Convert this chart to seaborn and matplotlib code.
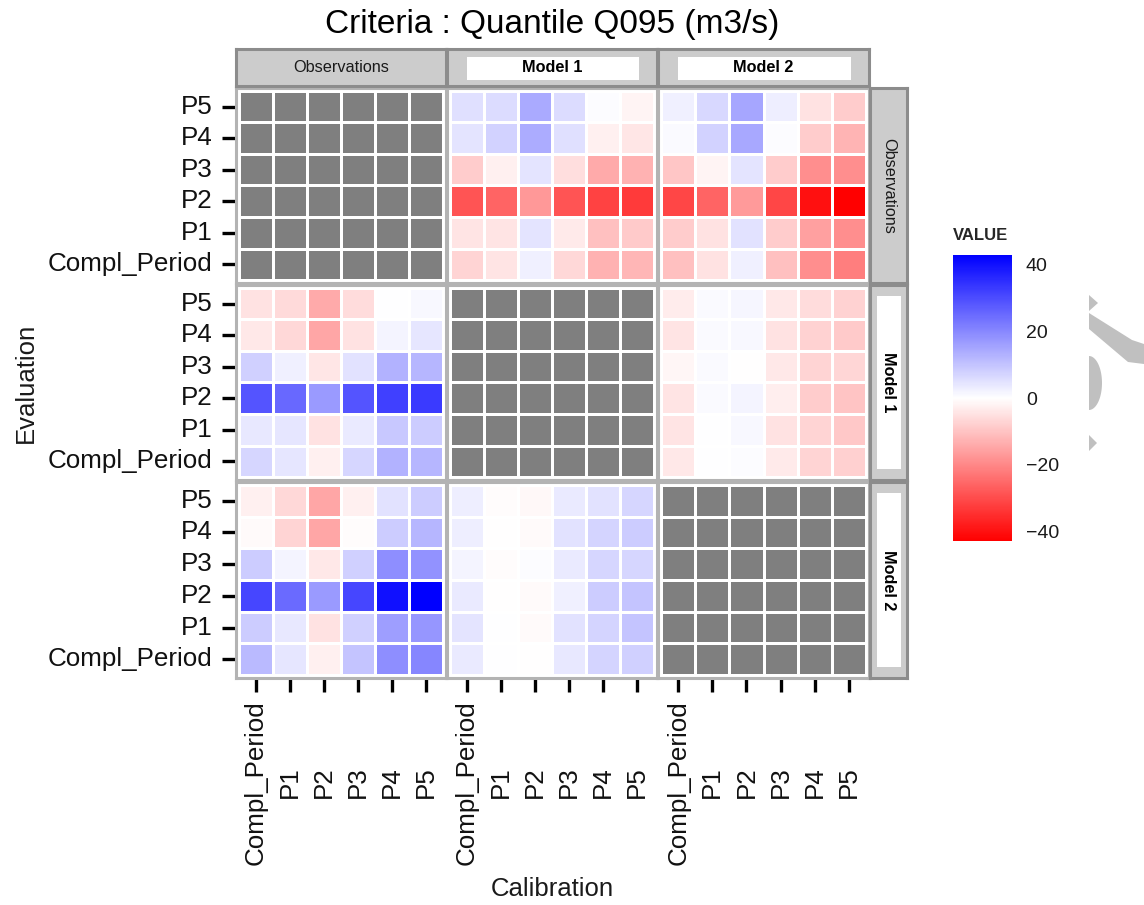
import numpy as np
import pandas as pd
import matplotlib
matplotlib.use("Agg")
import matplotlib.pyplot as plt
import matplotlib.patches as mpatches
from matplotlib.colors import LinearSegmentedColormap, ListedColormap
import seaborn as sns

# ---- data -------------------------------------------------------------
models = ["Observations", "Model 1", "Model 2"]
periods = ["Compl_Period", "P1", "P2", "P3", "P4", "P5"]   # calibration (x)
eval_rows = ["P5", "P4", "P3", "P2", "P1", "Compl_Period"]  # evaluation (y, top to bottom)

# rows follow eval_rows, columns follow periods
obs_eval_m1_calib = [
    [5.2, 6.0, 14.3, 5.7, 0.5, -2.0],
    [4.4, 7.4, 13.8, 5.2, -2.5, -4.2],
    [-8.4, -2.5, 4.6, -5.5, -14.3, -13.0],
    [-28.7, -26.0, -17.2, -28.7, -31.5, -33.0],
    [-4.4, -4.6, 4.6, -3.4, -10.5, -8.8],
    [-7.2, -4.6, 2.5, -6.4, -13.0, -12.3],
]
obs_eval_m2_calib = [
    [2.5, 6.5, 15.0, 3.0, -5.0, -8.5],
    [1.0, 7.5, 14.5, 0.5, -8.5, -12.5],
    [-9.5, -2.0, 4.5, -8.5, -19.0, -19.0],
    [-31.0, -26.0, -17.0, -31.0, -40.0, -42.8],
    [-8.5, -5.0, 5.0, -8.5, -16.0, -19.0],
    [-10.5, -5.0, 2.5, -10.5, -19.0, -21.5],
]
m1_eval_obs_calib = [
    [-5.0, -6.2, -14.3, -5.7, 0.0, 1.2],
    [-3.9, -6.6, -15.0, -5.0, 1.9, 4.2],
    [7.9, 2.5, -4.2, 5.0, 13.0, 12.3],
    [28.7, 25.3, 16.9, 28.7, 32.0, 33.0],
    [3.9, 4.2, -5.0, 3.5, 9.3, 8.6],
    [6.7, 4.2, -2.5, 6.7, 13.0, 12.3],
]
m1_eval_m2_calib = [
    [-3.2, 0.8, 1.6, -3.9, -5.7, -7.4],
    [-4.6, 0.8, 1.3, -5.0, -7.4, -8.8],
    [-1.6, 0.8, -0.2, -3.9, -7.2, -6.8],
    [-4.4, 0.8, 1.8, -2.9, -8.4, -10.0],
    [-4.4, 0.0, 1.3, -5.0, -7.2, -9.3],
    [-3.9, 0.0, 0.5, -3.5, -7.2, -7.9],
]
m2_eval_obs_calib = [
    [-2.5, -6.6, -15.0, -2.5, 5.0, 8.6],
    [-0.8, -7.2, -15.0, -0.5, 8.6, 12.3],
    [8.6, 1.8, -3.9, 7.9, 18.9, 18.2],
    [30.9, 25.0, 16.9, 30.9, 40.1, 42.8],
    [8.6, 3.9, -5.0, 7.9, 16.1, 17.5],
    [11.6, 4.2, -2.5, 10.0, 18.9, 20.3],
]
m2_eval_m1_calib = [
    [3.0, -0.5, -1.2, 3.5, 5.0, 6.9],
    [2.9, -0.3, -0.8, 5.0, 7.2, 8.6],
    [1.8, -0.5, 0.5, 3.5, 6.7, 6.7],
    [3.5, -0.3, -0.8, 2.5, 8.6, 10.0],
    [4.6, 0.0, -0.8, 5.0, 7.2, 10.0],
    [3.5, 0.0, -0.3, 3.9, 7.2, 7.9],
]

facet_values = {
    (0, 1): obs_eval_m1_calib,
    (0, 2): obs_eval_m2_calib,
    (1, 0): m1_eval_obs_calib,
    (1, 2): m1_eval_m2_calib,
    (2, 0): m2_eval_obs_calib,
    (2, 1): m2_eval_m1_calib,
}
cbar_ticks = [-40, -20, 0, 20, 40]

# ---- styling ----------------------------------------------------------
sns.set_theme(style="white")
plt.rcParams["font.family"] = ["Liberation Sans", "DejaVu Sans"]

W, H = 1144, 905
fig = plt.figure(figsize=(W / 100, H / 100), dpi=100)


def box(x0, y0, x1, y1):
    """Pixel box (top-left origin) -> figure fraction rect."""
    return [x0 / W, 1 - y1 / H, (x1 - x0) / W, (y1 - y0) / H]


col_x = [(236, 446), (447, 657), (658, 869)]
row_y = [(88, 283), (285, 480), (482, 678)]

cmap = LinearSegmentedColormap.from_list("red_white_blue", ["#ff0000", "#ffffff", "#0000ff"])
vlim = max(abs(np.array(v)).max() for v in facet_values.values())
na_cmap = ListedColormap(["#7f7f7f"])

cax = fig.add_axes(box(953, 255, 1012, 541))
cbar_drawn = False

tick_fs = 18.7
for r in range(3):
    for c in range(3):
        ax = fig.add_axes(box(col_x[c][0], row_y[r][0], col_x[c][1], row_y[r][1]))
        if r == c:
            df = pd.DataFrame(np.ones((6, 6)), index=eval_rows, columns=periods)
            sns.heatmap(df, cmap=na_cmap, cbar=False, linewidths=2, linecolor="white", ax=ax)
        else:
            df = pd.DataFrame(facet_values[(r, c)], index=eval_rows, columns=periods)
            sns.heatmap(df, cmap=cmap, vmin=-vlim, vmax=vlim,
                        cbar=not cbar_drawn, cbar_ax=None if cbar_drawn else cax,
                        linewidths=2, linecolor="white", ax=ax)
            if not cbar_drawn:
                cbar = ax.collections[0].colorbar
                cbar_drawn = True
        ax.set_facecolor("white")
        ax.set_xlim(-0.09, 6.09)
        ax.set_ylim(6.09, -0.09)
        ax.set_xlabel("")
        ax.set_ylabel("")
        for s in ax.spines.values():
            s.set_visible(True)
            s.set_color("#b3b3b3")
            s.set_linewidth(2.2)
        ax.set_yticks(np.arange(6) + 0.5)
        ax.set_xticks(np.arange(6) + 0.5)
        if c == 0:
            ax.set_yticklabels(eval_rows, rotation=0, fontsize=tick_fs, color="#111111")
            ax.tick_params(axis="y", left=True, length=10, width=2.4, color="black",
                           direction="out", pad=7)
        else:
            ax.set_yticklabels([])
            ax.tick_params(axis="y", left=False, length=0)
        if r == 2:
            ax.set_xticklabels(periods, rotation=90, fontsize=tick_fs, color="#111111",
                               ha="center", va="center")
            ax.tick_params(axis="x", bottom=True, length=10, width=2.4, color="black",
                           direction="out", pad=65)
        else:
            ax.set_xticklabels([])
            ax.tick_params(axis="x", bottom=False, length=0)

# ---- facet strips ----------------------------------------------------
strip_fs = 11.7
for c, name in enumerate(models):
    sax = fig.add_axes(box(col_x[c][0], 49, col_x[c][1], 86))
    sax.set_facecolor("#cccccc")
    sax.set_xticks([]); sax.set_yticks([])
    sax.set_xlim(0, 1); sax.set_ylim(0, 1)
    for s in sax.spines.values():
        s.set_color("#8c8c8c"); s.set_linewidth(2.2)
    if c > 0:
        sax.add_patch(mpatches.Rectangle((20 / 210, 0.17), 172 / 210, 0.62,
                                         facecolor="white", edgecolor="none"))
        sax.text(0.5, 0.5, name, ha="center", va="center", fontsize=strip_fs,
                 fontweight="bold", color="black")
    else:
        sax.text(0.5, 0.5, name, ha="center", va="center", fontsize=strip_fs,
                 color="#1a1a1a")

for r, name in enumerate(models):
    sax = fig.add_axes(box(870, row_y[r][0], 907, row_y[r][1]))
    sax.set_facecolor("#cccccc")
    sax.set_xticks([]); sax.set_yticks([])
    sax.set_xlim(0, 1); sax.set_ylim(0, 1)
    for s in sax.spines.values():
        s.set_color("#8c8c8c"); s.set_linewidth(2.2)
    if r > 0:
        sax.add_patch(mpatches.Rectangle((7 / 37, 0.055), 24 / 37, 0.89,
                                         facecolor="white", edgecolor="none"))
        sax.text(0.5, 0.5, name, ha="center", va="center", fontsize=strip_fs,
                 fontweight="bold", color="black", rotation=270)
    else:
        sax.text(0.5, 0.5, name, ha="center", va="center", fontsize=strip_fs,
                 color="#1a1a1a", rotation=270)

# ---- colour bar --------------------------------------------------------
cbar.outline.set_visible(False)
cbar.set_ticks(cbar_ticks)
cbar.set_ticklabels([str(t).replace("-", "\u2212") for t in cbar_ticks])
cax.tick_params(axis="y", which="both", direction="in", length=8, width=1,
                color="white", left=True, right=True, labelleft=False,
                labelright=True, labelsize=14, labelcolor="#1a1a1a", pad=10)
fig.text(953 / W, 1 - 236 / H, "VALUE", fontsize=12, fontweight="bold",
         ha="left", va="center")

# ---- titles ------------------------------------------------------------
fig.text(552.5 / W, 1 - 24 / H, "Criteria : Quantile Q095 (m3/s)", fontsize=24,
         ha="center", va="center", color="black")
fig.text(552.5 / W, 1 - 889 / H, "Calibration", fontsize=18.5, ha="center",
         va="center", color="#1a1a1a")
fig.text(26 / W, 1 - 383 / H, "Evaluation", fontsize=18.5, ha="center",
         va="center", rotation=90, color="#1a1a1a")

# ---- grey decorative mark at the right edge ------------------------------
mark_color = "#c0c0c0"


def fig_poly(points):
    pts = [(x / W, 1 - y / H) for x, y in points]
    fig.add_artist(mpatches.Polygon(pts, closed=True, transform=fig.transFigure,
                                    facecolor=mark_color, edgecolor="none"))


fig_poly([(1089, 295), (1098, 303), (1089, 311)])
fig_poly([(1089, 313), (1132, 340), (1144, 344), (1144, 364), (1128, 362), (1089, 329)])
theta = np.linspace(-np.pi / 2, np.pi / 2, 40)
fig_poly([(1089 + 13 * np.cos(t), 383 + 27 * np.sin(t)) for t in theta])
fig_poly([(1089, 435), (1097, 443), (1089, 451)])

fig.savefig("out.png", dpi=100, facecolor="white")
